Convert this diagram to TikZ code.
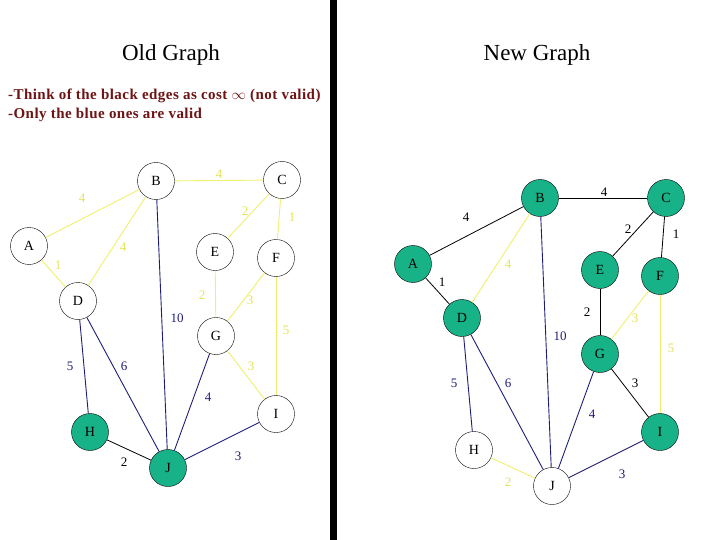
\documentclass[tikz,border=0pt]{standalone}
\usepackage{fontspec}
\setmainfont{Liberation Serif}
\newfontfamily\subfont[LetterSpace=3]{Liberation Serif}
\definecolor{nodegreen}{RGB}{24,178,136}
\definecolor{ylw}{RGB}{240,240,110}
\definecolor{ylwtext}{RGB}{228,228,90}
\definecolor{navyb}{RGB}{30,30,120}
\definecolor{maroonr}{RGB}{110,20,20}
\tikzset{
  vtx/.style={circle,draw=black,thin,minimum size=37pt,inner sep=0pt,font=\fontsize{14}{16}\selectfont},
  gv/.style={vtx,fill=nodegreen},
  wv/.style={vtx,fill=white},
  ye/.style={draw=ylw,line width=0.9pt},
  be/.style={draw=navyb,line width=0.9pt},
  ke/.style={draw=black,line width=0.8pt},
  lab/.style={font=\fontsize{13}{15}\selectfont,inner sep=0pt},
  yl/.style={lab,text=ylwtext},
  bl/.style={lab,text=navyb},
  kl/.style={lab,text=black},
  subtxt/.style={anchor=west,font=\subfont\fontsize{15}{18}\bfseries\selectfont,text=maroonr,inner sep=0pt},
  ttl/.style={font=\fontsize{23}{27}\selectfont},
}
\begin{document}
\begin{tikzpicture}[x=1pt,y=-1pt]
\useasboundingbox (0,0) rectangle (720,540);
\fill[white] (0,0) rectangle (720,540);
\fill[black] (330,0) rectangle (337,540);
\node[ttl] (t1) at (171,55) {Old Graph};
\node[ttl] (t2) at (537,55) {New Graph};
\node[subtxt] (s1) at (8,96) {-Think of the black edges as cost $\infty$ (not valid)};
\node[subtxt] (s2) at (8,115) {-Only the blue ones are valid};

% Old graph
\node[wv] (oA) at (29,246) {A};
\node[wv] (oB) at (156,181) {B};
\node[wv] (oC) at (282,180) {C};
\node[wv] (oD) at (78,301) {D};
\node[wv] (oE) at (215,252) {E};
\node[wv] (oF) at (276,258) {F};
\node[wv] (oG) at (216,336) {G};
\node[gv] (oH) at (90,432) {H};
\node[wv] (oI) at (276,414) {I};
\node[gv] (oJ) at (168,468) {J};
\draw[ye] (oA) -- (oB);
\draw[ye] (oB) -- (oC);
\draw[ye] (oC) -- (oE);
\draw[ye] (oC) -- (oF);
\draw[ye] (oB) -- (oD);
\draw[ye] (oA) -- (oD);
\draw[ye] (oE) -- (oG);
\draw[ye] (oF) -- (oG);
\draw[ye] (oF) -- (oI);
\draw[ye] (oG) -- (oI);
\draw[be] (oB) -- (oJ);
\draw[be] (oD) -- (oH);
\draw[be] (oD) -- (oJ);
\draw[be] (oG) -- (oJ);
\draw[be] (oJ) -- (oI);
\draw[ke] (oH) -- (oJ);
\node[yl] (l1) at (82,198) {4};
\node[yl] (l2) at (219,174) {4};
\node[yl] (l3) at (245,211) {2};
\node[yl] (l4) at (292,217) {1};
\node[yl] (l5) at (123,247) {4};
\node[yl] (l6) at (58,265) {1};
\node[yl] (l7) at (202,295) {2};
\node[yl] (l8) at (250,300) {3};
\node[bl] (l9) at (177,318) {10};
\node[yl] (l10) at (286,330) {5};
\node[bl] (l11) at (70,366) {5};
\node[bl] (l12) at (124,366) {6};
\node[yl] (l13) at (251,366) {3};
\node[bl] (l14) at (208,397) {4};
\node[kl] (l15) at (124,462) {2};
\node[bl] (l16) at (238,456) {3};

% New graph
\node[gv] (nA) at (413,264) {A};
\node[gv] (nB) at (540,198) {B};
\node[gv] (nC) at (666,198) {C};
\node[gv] (nD) at (462,318) {D};
\node[gv] (nE) at (600,270) {E};
\node[gv] (nF) at (660,276) {F};
\node[gv] (nG) at (600,354) {G};
\node[wv] (nH) at (474,450) {H};
\node[gv] (nI) at (660,432) {I};
\node[wv] (nJ) at (552,486) {J};
\draw[ke] (nA) -- (nB);
\draw[ke] (nB) -- (nC);
\draw[ke] (nC) -- (nE);
\draw[ke] (nC) -- (nF);
\draw[ke] (nA) -- (nD);
\draw[ke] (nE) -- (nG);
\draw[ke] (nG) -- (nI);
\draw[ye] (nB) -- (nD);
\draw[ye] (nF) -- (nG);
\draw[ye] (nF) -- (nI);
\draw[ye] (nH) -- (nJ);
\draw[be] (nB) -- (nJ);
\draw[be] (nD) -- (nH);
\draw[be] (nD) -- (nJ);
\draw[be] (nG) -- (nJ);
\draw[be] (nJ) -- (nI);
\node[kl] (m1) at (466,217) {4};
\node[kl] (m2) at (604,192) {4};
\node[kl] (m3) at (628,229) {2};
\node[kl] (m4) at (676,234) {1};
\node[kl] (m5) at (442,282) {1};
\node[yl] (m6) at (508,264) {4};
\node[kl] (m7) at (587,312) {2};
\node[yl] (m8) at (635,318) {3};
\node[bl] (m9) at (560,336) {10};
\node[yl] (m10) at (671,348) {5};
\node[bl] (m11) at (454,383) {5};
\node[bl] (m12) at (508,383) {6};
\node[kl] (m13) at (635,383) {3};
\node[bl] (m14) at (592,414) {4};
\node[yl] (m15) at (508,482) {2};
\node[bl] (m16) at (622,474) {3};
\end{tikzpicture}
\end{document}
